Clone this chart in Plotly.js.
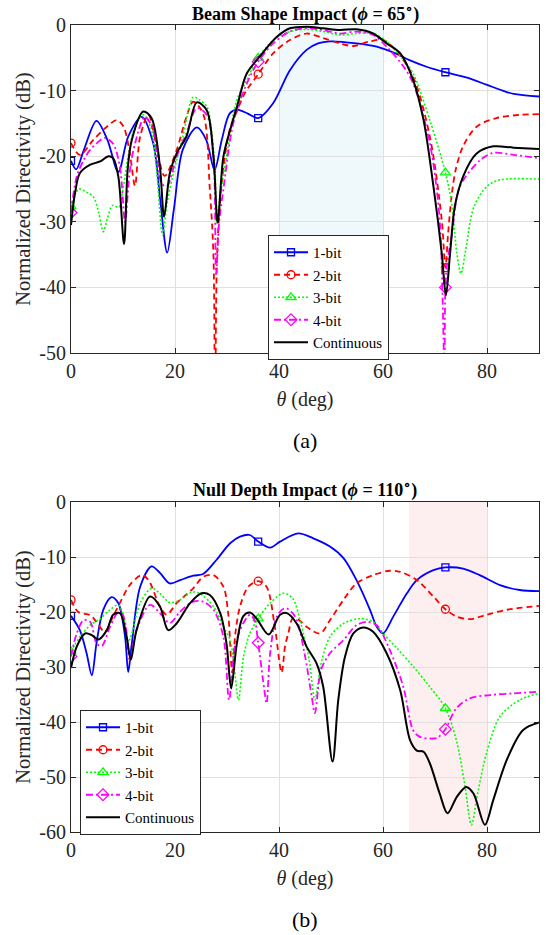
<!DOCTYPE html>
<html><head><meta charset="utf-8">
<script src="https://cdn.plot.ly/plotly-3.0.1.min.js"></script>
<style>
html,body{margin:0;padding:0;background:#fff}
#chart svg text{font-family:"Liberation Serif",serif !important;}
</style>
</head><body><div id="chart" style="width:549px;height:935px"></div>
<script>
// ---------- data ----------
const seriesNames = ['1-bit', '2-bit', '3-bit', '4-bit', 'Continuous'];
const markerThetas = [0, 36, 72];
const xTicks = [0, 20, 40, 60, 80];
const yTicksA = [0, -10, -20, -30, -40, -50];
const yTicksB = [0, -10, -20, -30, -40, -50, -60];
const beamRegion = [40, 60];
const nullRegion = [65, 80];

// (a) Beam Shape Impact, phi = 65 deg
const thetaA1 = [0,1.0,2.5,4.9,7.0,9.1,11.0,13.6,15.8,17.2,18.5,19.8,21.5,24.2,26.0,27.6,29.0,30.5,31.9,34.0,36,38.9,42.1,45.3,47.5,49.8,54.9,58.8,62.6,65.2,68.5,72,76,79.9,83,85.1,90];
const dirA1   = [-20.7,-22.0,-19.0,-14.6,-17.5,-22.4,-17.0,-14.0,-18.0,-27.0,-34.7,-28.0,-19.0,-15.6,-17.5,-22.1,-17.5,-13.5,-12.9,-13.5,-14.2,-11.9,-6.9,-3.8,-2.8,-2.5,-2.8,-3.3,-4.4,-5.4,-6.4,-7.2,-8.0,-9.1,-10.0,-10.5,-10.9];

const thetaA2 = [0,1.7,4.3,6.9,8.8,10.1,11.3,12.3,13.3,14.9,16.5,18.0,20.3,22.2,23.5,25.4,26.7,27.4,27.7,28.1,29.0,30.5,32.0,33.4,36,38.9,42.1,45.3,48.5,51.7,54.3,57.5,60.1,62.6,65.8,69.0,71.3,72,72.5,73.2,74.0,75.4,78.0,81.8,86.3,90];
const dirA2   = [-18.0,-19.8,-17.5,-15.5,-14.5,-15.5,-19.5,-24.5,-17.0,-13.7,-18.8,-23.0,-19.1,-14.0,-11.7,-13.5,-25.1,-35.3,-60,-35,-24,-16,-13,-10.4,-7.5,-4.3,-2.3,-1.3,-2.0,-2.8,-3.2,-2.5,-2.3,-4.0,-7.9,-17.0,-29.7,-37.0,-32.0,-26.0,-22.0,-18.5,-15.5,-14.2,-13.7,-13.6];

const thetaA3 = [0,1.5,3.0,4.3,5.3,6.2,7.0,8.0,9.2,10.0,11.0,12.3,13.9,15.3,16.5,17.6,18.5,19.7,21.5,23.5,24.5,26.1,27.0,27.7,28.0,28.5,29.9,31.9,33.8,36,38.9,42.1,45.3,48.5,51.7,54.9,58.1,60.7,62.6,63.9,65.8,69.0,72,73.2,74.2,75.0,75.9,77.5,80.0,82.5,90];
const dirA3   = [-27.7,-25.0,-25.5,-26.2,-28.5,-31.5,-29.5,-27.5,-27.8,-25.0,-20.0,-15.5,-13.7,-15.5,-22.5,-32.0,-27.0,-22.6,-17.0,-11.0,-11.3,-12.4,-16.0,-22.1,-30.2,-27.0,-20.1,-11.4,-8.4,-5.0,-2.3,-1.0,-0.66,-1.0,-1.5,-1.3,-1.3,-2.5,-4.1,-5.3,-7.4,-14.5,-22.5,-27.2,-34.8,-37.9,-34.3,-27.7,-24.6,-23.6,-23.5];

const thetaA4 = [0,1.1,2.5,3.7,5.0,6.5,8.1,9.4,10.4,11.2,12.0,14.2,15.8,17.4,18.4,20.3,22.2,24.2,26.1,27.4,27.9,28.5,29.3,31.2,33.5,36,38.9,42.1,45.3,48.5,51.7,54.9,58.1,60.7,63.9,65.8,69.0,70.9,71.8,72,72.4,73.2,74.8,78.7,81.2,85.1,90];
const dirA4   = [-28.6,-23.1,-20.5,-19.0,-18.0,-17.2,-18.1,-21.6,-30.0,-23.0,-19.1,-14.0,-16.0,-24.1,-24.6,-20.1,-16.5,-12.7,-13.7,-20.1,-38.0,-30.0,-25.1,-15.0,-9.5,-5.6,-2.8,-1.0,-0.5,-0.76,-1.3,-1.0,-1.5,-3.3,-6.3,-8.9,-18.0,-29.7,-52.0,-40.0,-36.0,-32.3,-24.6,-20.6,-19.5,-19.8,-20.3];

const thetaA5 = [0,0.8,1.7,3.7,5.6,7.2,8.1,9.1,10.2,10.9,11.7,13.9,15.5,17.1,17.9,19.0,20.3,22.2,24.2,26.1,27.4,28.2,29.3,30.6,31.9,33.8,36.3,39.6,42.1,45.3,48.5,51.7,54.9,58.1,60.7,63.3,65.8,67.8,69.7,71.3,72.1,72.9,73.8,75.4,78.0,81.2,85.1,90];
const dirA5   = [-30.5,-25.5,-22.6,-21.3,-20.8,-20.0,-20.3,-23.1,-33.4,-22.0,-17.5,-13.2,-14.2,-21.6,-29.2,-22.6,-19.6,-17.0,-11.8,-13.0,-20.1,-30.1,-20.1,-16.0,-12.5,-7.4,-4.8,-1.8,-0.5,-0.25,-0.5,-0.76,-0.66,-1.3,-2.8,-4.3,-8.4,-14.5,-24.6,-34.8,-41.2,-34.8,-27.7,-23.1,-19.6,-18.5,-18.7,-18.9];

// (b) Null Depth Impact, phi = 110 deg
const thetaB1 = [0,1.7,3.0,4.0,4.9,6.2,7.8,9.1,10.4,11.0,11.7,13.3,15.5,17.1,19.0,21.0,23.5,25.4,28.0,30.6,32.5,34.4,36,38.3,40.2,43.7,46.6,49.8,52.4,54.9,57.5,58.8,60.0,62.0,64.6,66.5,69.7,72,75.4,78.6,82.5,86.3,90];
const dirB1   = [-20.7,-23.3,-27.5,-31.5,-25.7,-19.6,-17.3,-18.4,-24.5,-30.9,-25.7,-15.4,-11.7,-12.9,-14.8,-14.2,-13.4,-13.1,-10.5,-7.5,-6.3,-6.0,-7.2,-8.3,-7.2,-5.7,-6.6,-8.1,-10.2,-14.2,-19.6,-22.7,-23.9,-20.8,-16.6,-14.2,-12.4,-11.9,-12.1,-13.3,-15.1,-16.0,-16.2];

const thetaB2 = [0,1.4,3.7,4.9,6.5,8.1,9.7,11.3,13.6,14.9,17.1,18.4,20.3,23.5,25.4,27.4,29.3,30.2,31.0,31.6,32.5,34.1,36,37.6,39.2,40.5,41.2,41.8,42.6,43.6,45.3,47.9,49.8,52.4,54.9,58.1,61.3,63.3,66.5,69.7,72,74.1,76.7,79.9,83.8,90];
const dirB2   = [-17.8,-20.0,-20.6,-21.8,-23.6,-20.8,-17.8,-15.1,-13.3,-14.2,-19.0,-20.5,-18.4,-15.7,-13.6,-13.3,-15.4,-20.0,-31.0,-24.0,-19.0,-15.4,-14.4,-15.4,-22.7,-31.0,-26.0,-23.9,-21.2,-21.3,-22.7,-23.9,-21.5,-17.8,-14.8,-13.3,-12.5,-12.7,-14.2,-17.2,-19.5,-20.8,-21.3,-20.5,-19.6,-18.9];

const thetaB3 = [0,1.7,3.7,5.6,7.5,9.1,10.1,11.0,11.7,13.3,15.5,17.1,19.0,21.0,23.2,24.7,27.4,29.3,30.6,31.4,32.2,33.2,34.4,36,38.3,40.8,42.6,44.2,45.8,46.9,48.1,49.8,52.4,55.6,58.1,60.0,62.6,65.8,69.0,72,74.1,75.7,77.0,78.2,79.9,82.5,86.3,90];
const dirB3   = [-27.2,-24.5,-22.4,-21.2,-19.6,-18.7,-20.8,-25.4,-23.9,-18.4,-15.7,-16.6,-18.3,-17.8,-16.4,-16.6,-19.0,-22.7,-25.1,-30.0,-36.0,-28.0,-23.9,-21.2,-18.4,-16.6,-17.5,-22.1,-28.7,-36.0,-29.3,-24.5,-22.1,-21.2,-21.8,-23.9,-26.5,-29.9,-33.6,-37.5,-43.3,-51.2,-58.7,-53.0,-45.7,-39.0,-36.0,-34.8];

const thetaB4 = [0,1.1,2.4,3.7,4.9,5.9,7.5,9.4,10.4,11.3,12.6,15.2,17.1,19.0,21.0,23.5,25.4,27.4,29.3,30.4,31.5,33.1,34.4,35.3,36,37.1,37.6,38.3,39.6,41.2,43.1,44.9,46.3,46.9,48.1,49.8,52.4,54.9,56.9,58.8,61.3,63.9,65.8,67.1,69.7,70.6,72,74.1,76.7,80.6,85.0,90];
const dirB4   = [-28.1,-23.9,-21.5,-21.8,-25.7,-26.2,-22.7,-19.6,-21.8,-28.7,-23.3,-18.7,-20.2,-22.0,-19.9,-18.1,-18.1,-19.6,-24.5,-36.0,-26.3,-22.1,-20.5,-21.5,-25.6,-33.6,-36.6,-27.5,-20.8,-19.3,-20.8,-27.5,-35.4,-38.4,-30.5,-27.5,-25.1,-22.4,-21.8,-22.4,-26.9,-33.6,-41.5,-42.7,-43.0,-42.8,-41.3,-37.5,-35.7,-35.1,-34.8,-34.5];

const thetaB5 = [0,1.1,2.7,4.0,5.3,6.9,8.1,9.4,10.7,11.5,12.6,15.2,17.1,18.7,20.3,22.9,25.1,26.7,28.7,29.9,30.8,31.9,33.1,34.4,35.7,38.0,40.2,41.5,43.4,45.3,47.2,48.5,50.3,51.4,52.7,54.3,56.2,58.1,60.7,63.3,65.2,66.5,67.8,69.0,70.9,72.4,74.2,76.0,77.4,79.6,81.2,83.8,86.9,90];
const dirB5   = [-30.2,-26.3,-23.9,-24.2,-25.0,-23.3,-20.5,-20.2,-24.5,-28.7,-23.3,-17.2,-19.0,-23.3,-22.1,-18.4,-16.6,-16.9,-20.2,-25.7,-33.9,-25.7,-20.8,-20.1,-21.2,-24.1,-20.5,-20.2,-22.1,-26.3,-29.3,-33.6,-47.2,-36.0,-28.1,-23.9,-22.8,-23.6,-27.5,-34.2,-43.3,-45.2,-45.4,-47.5,-53.0,-56.6,-53.6,-51.8,-53.0,-58.7,-54.2,-46.9,-41.5,-40.1];

// ---------- styles ----------
const colors  = ['#0000ff', '#ff0000', '#00ff00', '#ff00ff', '#000000'];
const dashes  = ['solid', '6px,4px', '2px,2px', '7px,3px,2px,3px', 'solid'];
const symbols = ['square-open', 'circle-open', 'triangle-up-open', 'diamond-open', null];
const msizes  = [7, 8, 9, 9, 0];
const widths  = [1.8, 1.8, 1.6, 1.8, 2];

const setA = [[thetaA1, dirA1], [thetaA2, dirA2], [thetaA3, dirA3], [thetaA4, dirA4], [thetaA5, dirA5]];
const setB = [[thetaB1, dirB1], [thetaB2, dirB2], [thetaB3, dirB3], [thetaB4, dirB4], [thetaB5, dirB5]];

function makeTraces(set, xa, ya, legendId) {
  return set.map((s, i) => {
    const th = s[0], d = s[1];
    const t = {
      type: 'scatter', x: th, y: d, name: seriesNames[i],
      xaxis: xa, yaxis: ya, legend: legendId,
      line: {color: colors[i], width: widths[i], dash: dashes[i], shape: 'spline', smoothing: 0.9},
      mode: symbols[i] ? 'lines+markers' : 'lines',
      hoverinfo: 'skip'
    };
    if (symbols[i]) {
      t.marker = {
        symbol: symbols[i], size: msizes[i],
        color: th.map(v => markerThetas.includes(v) ? colors[i] : 'rgba(0,0,0,0)'),
        line: {width: 1.3}
      };
    }
    return t;
  });
}

const data = makeTraces(setA, 'x', 'y', 'legend').concat(makeTraces(setB, 'x2', 'y2', 'legend2'));

const FONT = 'Liberation Serif';
function axisBase() {
  return {
    showline: true, mirror: 'ticks', linecolor: '#262626', linewidth: 1,
    ticks: 'inside', ticklen: 5, tickcolor: '#262626', tickwidth: 1,
    showgrid: true, gridcolor: '#e0e0e0', gridwidth: 1, zeroline: false,
    tickfont: {family: FONT, size: 20, color: '#262626'},
    automargin: false
  };
}
const H = 807;  // plot-area height (935 - 25 - 103)

function xAxis(anchor) {
  return Object.assign(axisBase(), {
    anchor: anchor, domain: [0, 1], range: [0, 90], tickvals: xTicks,
    ticktext: xTicks.map(String),
    title: {text: '<i>θ</i> (deg)', font: {family: FONT, size: 20, color: '#262626'}, standoff: 10}
  });
}
function yAxis(anchor, dom, rng, ticks) {
  return Object.assign(axisBase(), {
    anchor: anchor, domain: dom, range: rng, tickvals: ticks,
    ticktext: ticks.map(String),
    title: {text: 'Normalized Directivity (dB)', font: {family: FONT, size: 20.5, color: '#262626'}, standoff: 3}
  });
}

function legendBase() {
  return {
    xanchor: 'left', yanchor: 'top', bgcolor: '#ffffff',
    bordercolor: '#262626', borderwidth: 1,
    font: {family: FONT, size: 15, color: '#000'}, tracegroupgap: 0,
    itemwidth: 34
  };
}

const layout = {
  width: 549, height: 935,
  margin: {l: 71, r: 10, t: 25, b: 103},
  paper_bgcolor: '#ffffff', plot_bgcolor: '#ffffff',
  font: {family: FONT, size: 18, color: '#262626'},
  showlegend: true,
  xaxis: xAxis('y'),
  yaxis: yAxis('x', [(832 - 353) / H, 1], [-50, 0], yTicksA),
  xaxis2: xAxis('y2'),
  yaxis2: yAxis('x2', [0, (832 - 502) / H], [-60, 0], yTicksB),
  legend: Object.assign(legendBase(), {x: (268 - 71) / 468, y: (832 - 235) / H}),
  legend2: Object.assign(legendBase(), {x: (80 - 71) / 468, y: (832 - 710) / H}),
  shapes: [
    {type: 'rect', xref: 'x', yref: 'y domain', x0: beamRegion[0], x1: beamRegion[1], y0: 0, y1: 1,
     fillcolor: '#eff8fb', line: {width: 0}, layer: 'below'},
    {type: 'rect', xref: 'x2', yref: 'y2 domain', x0: nullRegion[0], x1: nullRegion[1], y0: 0, y1: 1,
     fillcolor: '#fdefef', line: {width: 0}, layer: 'below'}
  ],
  annotations: [
    {text: '<b>Beam Shape Impact (<i>ϕ</i> = 65<sup>∘</sup>)</b>', xref: 'paper', yref: 'paper',
     x: 0.5, y: (832 - 13) / H, xanchor: 'center', yanchor: 'middle', showarrow: false,
     font: {family: FONT, size: 18, color: '#000'}},
    {text: '<b>Null Depth Impact (<i>ϕ</i> = 110<sup>∘</sup>)</b>', xref: 'paper', yref: 'paper',
     x: 0.5, y: (832 - 489) / H, xanchor: 'center', yanchor: 'middle', showarrow: false,
     font: {family: FONT, size: 18, color: '#000'}},
    {text: '(a)', xref: 'paper', yref: 'paper', x: 0.5, y: (832 - 440) / H,
     xanchor: 'center', yanchor: 'middle', showarrow: false, font: {family: FONT, size: 22, color: '#000'}},
    {text: '(b)', xref: 'paper', yref: 'paper', x: 0.5, y: (832 - 919) / H,
     xanchor: 'center', yanchor: 'middle', showarrow: false, font: {family: FONT, size: 22, color: '#000'}}
  ]
};

Plotly.newPlot('chart', data, layout, {staticPlot: true, displayModeBar: false});
</script>
</body></html>
